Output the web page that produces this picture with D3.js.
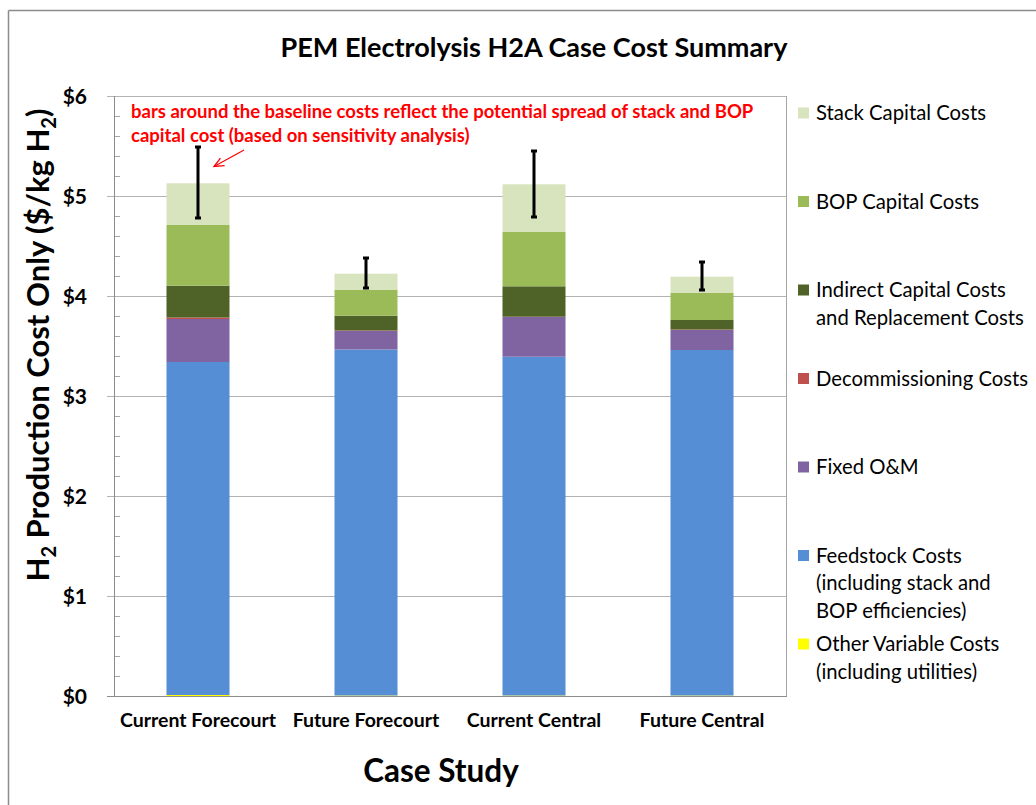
<!DOCTYPE html>
<html>
<head>
<meta charset="utf-8">
<script src="https://cdn.jsdelivr.net/npm/d3@7"></script>
<style>
  html, body { margin: 0; padding: 0; background: #fff; }
  svg { display: block; font-family: Lato, "Open Sans", sans-serif; }
</style>
</head>
<body>
<svg id="chart" width="1036" height="805"></svg>
<script>
// ---- data ----
const categories = ["Current Forecourt", "Future Forecourt", "Current Central", "Future Central"];
// stacked bottom -> top
const seriesNames = [
  "Other Variable Costs (including utilities)",
  "Feedstock Costs (including stack and BOP efficiencies)",
  "Fixed O&M",
  "Decommissioning Costs",
  "Indirect Capital Costs and Replacement Costs",
  "BOP Capital Costs",
  "Stack Capital Costs"
];
const otherVariable = [0.010, 0.005, 0.005, 0.005];
const feedstock     = [3.330, 3.460, 3.388, 3.455];
const fixedOM       = [0.430, 0.185, 0.397, 0.200];
const decommission  = [0.015, 0.005, 0.003, 0.005];
const indirect      = [0.318, 0.148, 0.304, 0.095];
const bopCapital    = [0.607, 0.257, 0.543, 0.270];
const stackCapital  = [0.417, 0.163, 0.477, 0.163];
const errLow  = [4.78, 4.08, 4.79, 4.06];
const errHigh = [5.49, 4.38, 5.45, 4.34];
const yTicks = [0, 1, 2, 3, 4, 5, 6];
const yTickLabels = ["$0", "$1", "$2", "$3", "$4", "$5", "$6"];
const legendLines = [
  ["Stack Capital Costs"],
  ["BOP Capital Costs"],
  ["Indirect Capital Costs", "and Replacement Costs"],
  ["Decommissioning Costs"],
  ["Fixed O&M"],
  ["Feedstock Costs", "(including stack and", "BOP efficiencies)"],
  ["Other Variable Costs", "(including utilities)"]
];
const annotationLines = [
  "bars around the baseline costs reflect the potential spread of stack and BOP",
  "capital cost (based on sensitivity analysis)"
];
const seriesValues = [otherVariable, feedstock, fixedOM, decommission, indirect, bopCapital, stackCapital];
const colors = ["#ffff00", "#558ed5", "#8064a2", "#c0504d", "#4f6228", "#9bbb59", "#d7e4bd"];

// ---- layout ----
const svg = d3.select("#chart");
const plot = { left: 114, right: 786, top: 96, bottom: 696 };

const x = d3.scaleBand().domain(categories).range([plot.left, plot.right]).paddingInner(0.625).paddingOuter(0.3125);
const y = d3.scaleLinear().domain([0, 6]).range([plot.bottom, plot.top]);

// outer frame (top & left visible)
svg.append("line").attr("x1", 8.5).attr("x2", 1036).attr("y1", 10.5).attr("y2", 10.5).attr("stroke", "#8c8c8c").attr("stroke-width", 1.5);
svg.append("line").attr("x1", 8.5).attr("x2", 8.5).attr("y1", 10.5).attr("y2", 805).attr("stroke", "#8c8c8c").attr("stroke-width", 1.5);

// gridlines
svg.append("g").selectAll("line").data(yTicks.filter(d => d > 0)).join("line")
  .attr("x1", plot.left - 7).attr("x2", plot.right)
  .attr("y1", d => Math.round(y(d)) + 0.5).attr("y2", d => Math.round(y(d)) + 0.5)
  .attr("stroke", "#b3b3b3").attr("stroke-width", 1);

// minor ticks
const minor = d3.range(0, 30).map(i => i * 0.2).filter(v => Math.abs(v - Math.round(v)) > 1e-6);
svg.append("g").selectAll("line").data(minor).join("line")
  .attr("x1", plot.left).attr("x2", plot.left + 6)
  .attr("y1", d => Math.round(y(d)) + 0.5).attr("y2", d => Math.round(y(d)) + 0.5)
  .attr("stroke", "#a6a6a6");

// right border
svg.append("line").attr("x1", plot.right + 0.5).attr("x2", plot.right + 0.5)
  .attr("y1", plot.top).attr("y2", plot.bottom).attr("stroke", "#a6a6a6");

// stacked bars
const table = categories.map((c, i) => {
  const row = { cat: c };
  seriesNames.forEach((s, j) => row[s] = seriesValues[j][i]);
  return row;
});
const stacked = d3.stack().keys(seriesNames)(table);
svg.append("g").selectAll("g").data(stacked).join("g")
  .attr("fill", (d, i) => colors[i])
  .selectAll("rect").data(d => d).join("rect")
  .attr("x", d => x(d.data.cat))
  .attr("width", x.bandwidth())
  .attr("y", d => y(d[1]))
  .attr("height", d => Math.max(0, y(d[0]) - y(d[1])));

// y axis line and x axis line
svg.append("line").attr("x1", plot.left + 0.5).attr("x2", plot.left + 0.5)
  .attr("y1", plot.top).attr("y2", plot.bottom).attr("stroke", "#8c8c8c");
svg.append("line").attr("x1", plot.left - 7).attr("x2", plot.right + 1)
  .attr("y1", plot.bottom + 0.5).attr("y2", plot.bottom + 0.5).attr("stroke", "#8c8c8c");

// error bars
const eg = svg.append("g").attr("stroke", "#000").attr("stroke-width", 3);
categories.forEach((c, i) => {
  const cx = x(c) + x.bandwidth() / 2;
  eg.append("line").attr("x1", cx).attr("x2", cx).attr("y1", y(errHigh[i])).attr("y2", y(errLow[i]));
  eg.append("line").attr("x1", cx - 3).attr("x2", cx + 3).attr("y1", y(errHigh[i])).attr("y2", y(errHigh[i]));
  eg.append("line").attr("x1", cx - 3).attr("x2", cx + 3).attr("y1", y(errLow[i])).attr("y2", y(errLow[i]));
});

// y tick labels
svg.append("g").selectAll("text").data(yTicks).join("text")
  .attr("x", 87).attr("y", d => y(d)).attr("dy", "0.36em")
  .attr("text-anchor", "end").attr("font-weight", "bold").attr("font-size", 21)
  .text((d, i) => yTickLabels[i]);

// x tick labels
svg.append("g").selectAll("text").data(categories).join("text")
  .attr("x", d => x(d) + x.bandwidth() / 2).attr("y", 720).attr("dy", "0.36em")
  .attr("text-anchor", "middle").attr("font-weight", "bold").attr("font-size", 19.5)
  .text(d => d);

// title
svg.append("text").attr("x", 534).attr("y", 47).attr("dy", "0.36em")
  .attr("text-anchor", "middle").attr("font-weight", "bold").attr("font-size", 27)
  .text("PEM Electrolysis H2A Case Cost Summary");

// x axis title
svg.append("text").attr("x", 441).attr("y", 771).attr("dy", "0.36em")
  .attr("text-anchor", "middle").attr("font-weight", "bold").attr("font-size", 31.5)
  .text("Case Study");

// y axis title with subscripts
const yt = svg.append("text").attr("transform", "translate(38,345) rotate(-90)")
  .attr("text-anchor", "middle").attr("font-weight", "bold").attr("font-size", 31).attr("dy", "0.36em");
yt.append("tspan").text("H");
yt.append("tspan").attr("font-size", 20).attr("dy", 7).text("2");
yt.append("tspan").attr("dy", -7).text(" Production Cost Only ($/kg H");
yt.append("tspan").attr("font-size", 20).attr("dy", 7).text("2");
yt.append("tspan").attr("dy", -7).text(")");

// annotation
svg.append("g").selectAll("text").data(annotationLines).join("text")
  .attr("x", 131).attr("y", (d, i) => 111 + i * 24).attr("dy", "0.36em")
  .attr("fill", "#ff0000").attr("font-weight", "bold").attr("font-size", 18.5)
  .text(d => d);

// arrow
svg.append("defs").append("marker").attr("id", "arr")
  .attr("viewBox", "0 0 10 10").attr("refX", 9).attr("refY", 5)
  .attr("markerWidth", 9).attr("markerHeight", 9).attr("orient", "auto")
  .append("path").attr("d", "M0,1 L9,5 L0,9").attr("fill", "none").attr("stroke", "#ff0000").attr("stroke-width", 1.2);
svg.append("line").attr("x1", 244).attr("y1", 150).attr("x2", 214).attr("y2", 166.5)
  .attr("stroke", "#ff0000").attr("stroke-width", 1.2).attr("marker-end", "url(#arr)");

// legend (top -> bottom = reverse of stack)
const lg = svg.append("g");
legendLines.forEach((lines, i) => {
  const si = seriesNames.length - 1 - i;
  const cy = 113 + i * 88.5;
  lg.append("rect").attr("x", 798).attr("y", cy - 5.5).attr("width", 11).attr("height", 11).attr("fill", colors[si]);
  lines.forEach((ln, k) => {
    lg.append("text").attr("x", 816).attr("y", cy + k * 27.5).attr("dy", "0.36em")
      .attr("font-size", 20.3).attr("fill", "#000").text(ln);
  });
});
</script>
</body>
</html>
